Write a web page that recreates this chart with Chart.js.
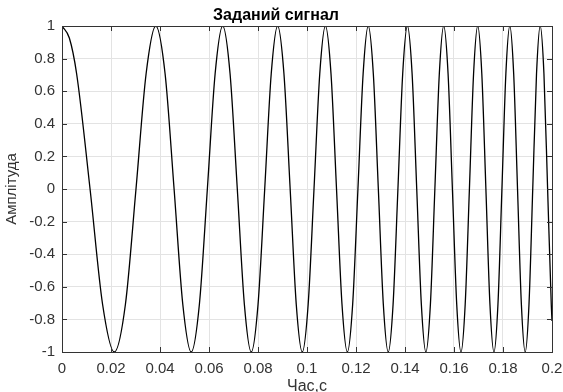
<!DOCTYPE html>
<html>
<head>
<meta charset="utf-8">
<script src="https://cdn.jsdelivr.net/npm/chart.js@4"></script>
<style>
  html, body { margin: 0; padding: 0; background: #fff; }
  #wrap { width: 563px; height: 392px; }
</style>
</head>
<body>
<div id="wrap"><canvas id="chartCanvas"></canvas></div>
<script>
// time samples (s), read at the peaks, troughs, zero crossings and half-way levels of the trace
const timeS = [
  0, 0.003, 0.00597, 0.01145, 0.01656, 0.02135, 0.02589, 0.03020, 0.03433,
  0.03828, 0.04208, 0.04575, 0.04930, 0.05274, 0.05608, 0.05933, 0.0625,
  0.06559, 0.06860, 0.07155, 0.07443, 0.07725, 0.08002, 0.08274, 0.08540,
  0.08802, 0.09059, 0.09313, 0.09561, 0.09807, 0.10048, 0.10286, 0.10521,
  0.10752, 0.10980, 0.11205, 0.11428, 0.11647, 0.11864, 0.12079, 0.12291,
  0.125, 0.12707, 0.12912, 0.13115, 0.13316, 0.13514, 0.13711, 0.13906,
  0.14098, 0.14290, 0.14479, 0.14667, 0.14852, 0.15037, 0.15219, 0.15401,
  0.15580, 0.15758, 0.15935, 0.16111, 0.16285, 0.16457, 0.16629, 0.16799,
  0.16968, 0.17135, 0.17302, 0.17467, 0.17631, 0.17794, 0.17956, 0.18117,
  0.18277, 0.18436, 0.18593, 0.1875, 0.18906, 0.19061, 0.19214, 0.19368,
  0.19519, 0.19671, 0.19821, 0.19970, 0.2
];

// amplitude at those samples
const amplitude = [
  1, 0.926, 0.707, 0, -0.707, -1, -0.707, 0, 0.707,
  1, 0.707, 0, -0.707, -1, -0.707, 0, 0.707,
  1, 0.707, 0, -0.707, -1, -0.707, 0, 0.707,
  1, 0.707, 0, -0.707, -1, -0.707, 0, 0.707,
  1, 0.707, 0, -0.707, -1, -0.707, 0, 0.707,
  1, 0.707, 0, -0.707, -1, -0.707, 0, 0.707,
  1, 0.707, 0, -0.707, -1, -0.707, 0, 0.707,
  1, 0.707, 0, -0.707, -1, -0.707, 0, 0.707,
  1, 0.707, 0, -0.707, -1, -0.707, 0, 0.707,
  1, 0.707, 0, -0.707, -1, -0.707, 0, 0.707,
  1, 0.707, 0, -0.707, -0.81
];

const xTicks = [0, 0.02, 0.04, 0.06, 0.08, 0.1, 0.12, 0.14, 0.16, 0.18, 0.2];
const yTicks = [-1, -0.8, -0.6, -0.4, -0.2, 0, 0.2, 0.4, 0.6, 0.8, 1];

const titleText = 'Заданий сигнал';
const xLabel = 'Час,с';
const yLabel = 'Амплітуда';

const fontFamily = "'Liberation Sans', Arial, Helvetica, sans-serif";
const axisColor = '#333333';

// MATLAB style box with inward ticks on all four sides
const boxPlugin = {
    id: 'boxPlugin',
    afterDatasetsDraw(chart) {
        const { ctx, chartArea, scales } = chart;
        const len = 5;
        ctx.save();
        ctx.strokeStyle = axisColor;
        ctx.lineWidth = 1;
        ctx.beginPath();
        xTicks.forEach(v => {
            const px = Math.round(scales.x.getPixelForValue(v)) + 0.5;
            ctx.moveTo(px, chartArea.bottom);
            ctx.lineTo(px, chartArea.bottom - len);
            ctx.moveTo(px, chartArea.top);
            ctx.lineTo(px, chartArea.top + len);
        });
        yTicks.forEach(v => {
            const py = Math.round(scales.y.getPixelForValue(v)) + 0.5;
            ctx.moveTo(chartArea.left, py);
            ctx.lineTo(chartArea.left + len, py);
            ctx.moveTo(chartArea.right, py);
            ctx.lineTo(chartArea.right - len, py);
        });
        ctx.stroke();
        ctx.strokeRect(Math.round(chartArea.left) + 0.5, Math.round(chartArea.top) + 0.5,
            Math.round(chartArea.right - chartArea.left), Math.round(chartArea.bottom - chartArea.top));
        ctx.restore();
    }
};

const points = timeS.map((t, i) => ({ x: t, y: amplitude[i] }));

const ctx = document.getElementById('chartCanvas').getContext('2d');
new Chart(ctx, {
    type: 'line',
    data: {
        datasets: [{
            data: points,
            borderColor: '#000000',
            borderWidth: 1.3,
            pointRadius: 0,
            fill: false,
            cubicInterpolationMode: 'monotone'
        }]
    },
    options: {
        responsive: true,
        maintainAspectRatio: false,
        animation: false,
        layout: { padding: { left: 0, right: 11, top: 0, bottom: 0 } },
        plugins: {
            legend: { display: false },
            tooltip: { enabled: false },
            title: {
                display: true,
                text: titleText,
                color: '#000000',
                font: { family: fontFamily, size: 16, weight: 'bold', lineHeight: 1.2 },
                padding: { top: 6, bottom: 0.8 }
            }
        },
        scales: {
            x: {
                type: 'linear',
                min: 0,
                max: 0.2,
                afterBuildTicks: scale => { scale.ticks = xTicks.map(v => ({ value: v })); },
                afterFit: scale => {
                    scale.height = 40;
                    scale.paddingLeft = 0;
                    scale.paddingRight = 0;
                },
                border: { display: false },
                grid: { color: '#e3e3e3', drawTicks: false, tickLength: 0 },
                ticks: {
                    color: axisColor,
                    padding: 8,
                    maxRotation: 0,
                    font: { family: fontFamily, size: 15 },
                    callback: v => String(Number(v.toFixed(2)))
                },
                title: {
                    display: true,
                    text: xLabel,
                    color: axisColor,
                    font: { family: fontFamily, size: 16, lineHeight: 1.2 },
                    padding: { top: 0, bottom: -4 }
                }
            },
            y: {
                type: 'linear',
                min: -1,
                max: 1,
                afterBuildTicks: scale => { scale.ticks = yTicks.map(v => ({ value: v })); },
                afterFit: scale => {
                    scale.width = 62;
                    scale.paddingTop = 0;
                    scale.paddingBottom = 0;
                },
                border: { display: false },
                grid: { color: '#e3e3e3', drawTicks: false, tickLength: 0 },
                ticks: {
                    color: axisColor,
                    padding: 7,
                    font: { family: fontFamily, size: 15 },
                    callback: v => String(Number(v.toFixed(2)))
                },
                title: {
                    display: true,
                    text: yLabel,
                    color: axisColor,
                    font: { family: fontFamily, size: 15, lineHeight: 1.2 },
                    padding: { top: 3, bottom: 0 }
                }
            }
        }
    },
    plugins: [boxPlugin]
});
</script>
</body>
</html>
